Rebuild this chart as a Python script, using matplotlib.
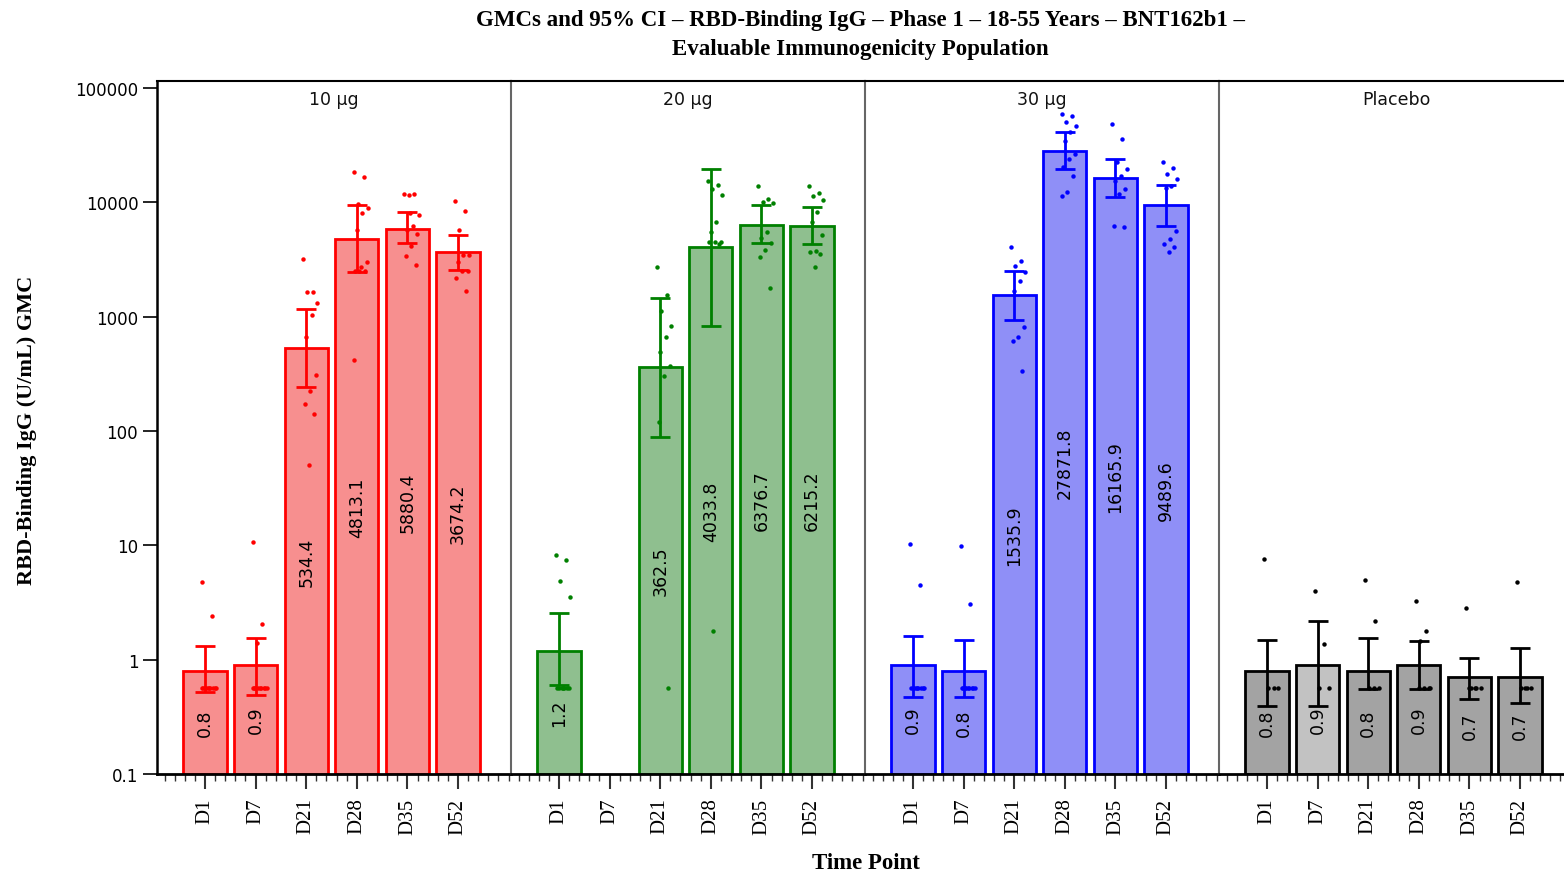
import numpy as np
import matplotlib
matplotlib.use("Agg")
import matplotlib.pyplot as plt
from matplotlib.ticker import FixedLocator, MultipleLocator, NullLocator

# ---------------- data ----------------
time_points = ["D1", "D7", "D21", "D28", "D35", "D52"]
groups = ["10 \u00b5g", "20 \u00b5g", "30 \u00b5g", "Placebo"]

gmc_10 = [0.8, 0.9, 534.4, 4813.1, 5880.4, 3674.2]
lo_10 = [0.525, 0.49, 243, 2460, 4420, 2570]
hi_10 = [1.33, 1.56, 1170, 9490, 8240, 5190]
pts_10 = [
    [4.8, 2.4] + [0.56] * 10,
    [10.8, 2.04, 1.41] + [0.56] * 9,
    [3200, 1650, 1650, 1320, 1040, 666, 309, 225, 173, 141, 50],
    [18500, 16800, 9700, 8900, 8000, 5700, 3000, 2700, 2500, 2500, 2500, 414],
    [11800, 11800, 11500, 7800, 6250, 5740, 5290, 4190, 3420, 2840, 8000],
    [10200, 8340, 5740, 3490, 3490, 2990, 2530, 2530, 2180, 1690],
]

gmc_20 = [1.2, np.nan, 362.5, 4033.8, 6376.7, 6215.2]
lo_20 = [0.60, np.nan, 89, 832, 4390, 4330]
hi_20 = [2.58, np.nan, 1460, 19600, 9490, 9060]
pts_20 = [
    [8.2, 7.4, 4.9, 3.55] + [0.57] * 7,
    [],
    [2700, 1550, 1110, 836, 670, 495, 373, 305, 120, 0.57],
    [15500, 14200, 13100, 11600, 6790, 5470, 4540, 4540, 4540, 4300, 1.77],
    [13800, 10800, 10100, 9880, 5540, 4850, 4400, 3840, 3310, 1780],
    [14000, 12100, 11400, 10400, 8190, 6700, 5130, 3780, 3670, 3550, 2710],
]

gmc_30 = [0.9, 0.8, 1535.9, 27871.8, 16165.9, 9489.6]
lo_30 = [0.47, 0.47, 944, 19600, 11100, 6250]
hi_30 = [1.61, 1.5, 2530, 41000, 24000, 14200]
pts_30 = [
    [10.3, 4.46] + [0.57] * 9,
    [9.8, 3.09] + [0.57] * 9,
    [4040, 3090, 2800, 2450, 2070, 1690, 809, 661, 617, 332],
    [59300, 56500, 50100, 46200, 41000, 34700, 26500, 24000, 20200, 17100, 12200, 11400],
    [48400, 35800, 22700, 19600, 17100, 15400, 13100, 11800, 6250, 6030],
    [22400, 19900, 17700, 16000, 14000, 13300, 5660, 4790, 4330, 4040, 3660],
]

gmc_pl = [0.8, 0.9, 0.8, 0.9, 0.7, 0.7]
lo_pl = [0.39, 0.39, 0.55, 0.55, 0.455, 0.42]
hi_pl = [1.5, 2.16, 1.56, 1.46, 1.03, 1.27]
pts_pl = [
    [7.6] + [0.56] * 3,
    [3.95, 1.38, 0.56, 0.56],
    [4.93, 2.16, 0.56, 0.56, 0.56],
    [3.24, 1.77, 1.45] + [0.56] * 4,
    [2.83] + [0.56] * 5,
    [4.78] + [0.56] * 4,
]

gmc_all = [gmc_10, gmc_20, gmc_30, gmc_pl]
lo_all = [lo_10, lo_20, lo_30, lo_pl]
hi_all = [hi_10, hi_20, hi_30, hi_pl]
pts_all = [pts_10, pts_20, pts_30, pts_pl]

# ---------------- styles ----------------
edge_colors = ["#ff0000", "#008000", "#0000ff", "#000000"]
fill_colors = [
    ["#f78f8f"] * 6,
    ["#8fbf8f"] * 6,
    ["#8f8ff7"] * 6,
    ["#a3a3a3", "#c2c2c2", "#a3a3a3", "#a3a3a3", "#a3a3a3", "#a3a3a3"],
]

W, H = 1564, 879
fig = plt.figure(figsize=(W / 100, H / 100), dpi=100)

left_px, top_px, bot_px = 157, 82, 775
panel_w = 354
ymin = 0.1
ymax = 10 ** (5 + 7 / 114.4)
step = 50.6
x0 = 1 - 48 / step
x1 = x0 + panel_w / step

serif = "Liberation Serif"
xpos = np.arange(1, len(time_points) + 1)

axes = []
for g in range(4):
    l = (left_px + g * panel_w) / W
    ax = fig.add_axes([l, (H - bot_px) / H, panel_w / W, (bot_px - top_px) / H])
    axes.append(ax)
    ax.set_yscale("log")
    ax.set_ylim(ymin, ymax)
    ax.set_xlim(x0, x1)

    gm = np.array(gmc_all[g], dtype=float)
    lo = np.array(lo_all[g], dtype=float)
    hi = np.array(hi_all[g], dtype=float)
    valid = ~np.isnan(gm)

    ax.bar(xpos[valid], gm[valid] - ymin, bottom=ymin, width=0.85,
           color=[c for c, v in zip(fill_colors[g], valid) if v],
           edgecolor=edge_colors[g], linewidth=2.0, zorder=2)

    # individual values
    for i, pts in enumerate(pts_all[g]):
        if not pts:
            continue
        n = len(pts)
        offs = np.array([0.28 * ((k * 7) % 11) / 10 - 0.06 for k in range(n)])
        ax.plot(xpos[i] + offs, pts, "o", color=edge_colors[g], markersize=3.2,
                markeredgewidth=0, zorder=3, clip_on=False)

    # CI error bars
    ax.errorbar(xpos[valid], gm[valid],
                yerr=[gm[valid] - lo[valid], hi[valid] - gm[valid]],
                fmt="none", ecolor=edge_colors[g], elinewidth=2.0,
                capsize=7, capthick=2.0, zorder=4)

    # value labels at geometric middle of bar
    for i in range(len(time_points)):
        if valid[i]:
            ax.text(xpos[i], np.sqrt(ymin * gm[i]), f"{gm[i]:.1f}", rotation=90,
                    ha="center", va="center", fontsize=12.5, color="black",
                    family="DejaVu Sans", zorder=5)

    ax.text(0.5, 1 - 18 / (bot_px - top_px), groups[g], transform=ax.transAxes,
            ha="center", va="center", fontsize=12.5, family="DejaVu Sans",
            color="#111111")

    # axes style
    ax.spines["right"].set_visible(False)
    ax.spines["top"].set_linewidth(1.5)
    ax.spines["bottom"].set_linewidth(2.0)
    if g == 0:
        ax.spines["left"].set_linewidth(1.8)
        ax.yaxis.set_major_locator(FixedLocator([0.1, 1, 10, 100, 1000, 10000, 100000]))
        ax.set_yticklabels(["0.1", "1", "10", "100", "1000", "10000", "100000"],
                           fontsize=12, family="DejaVu Sans")
        ax.yaxis.set_minor_locator(NullLocator())
        ax.tick_params(axis="y", which="major", length=10, width=1.2, direction="out")
    else:
        ax.spines["left"].set_color("#666666")
        ax.spines["left"].set_linewidth(1.5)
        ax.yaxis.set_major_locator(NullLocator())
        ax.yaxis.set_minor_locator(NullLocator())
    ax.set_xticks(xpos)
    ax.set_xticklabels(time_points, rotation=90, fontsize=15, family=serif)
    ax.xaxis.set_minor_locator(MultipleLocator(0.2))
    ax.tick_params(axis="x", which="major", length=11, width=1.5, pad=6, color="#333333")
    ax.tick_params(axis="x", which="minor", length=5, width=1.0, color="#333333")

fig.text((left_px + W) / 2 / W, 1 - 35 / H,
         "GMCs and 95% CI \u2013 RBD-Binding IgG \u2013 Phase 1 \u2013 18-55 Years \u2013 BNT162b1 \u2013\n"
         "Evaluable Immunogenicity Population",
         ha="center", va="center", fontsize=16.5, fontweight="bold", family=serif,
         linespacing=1.5)
fig.text(27 / W, 1 - 430 / H, "RBD-Binding IgG (U/mL) GMC", rotation=90,
         ha="center", va="center", fontsize=16, fontweight="bold", family=serif)
fig.text(866 / W, 1 - 864 / H, "Time Point", ha="center", va="center",
         fontsize=16.5, fontweight="bold", family=serif)

fig.savefig("out.png", dpi=100)
